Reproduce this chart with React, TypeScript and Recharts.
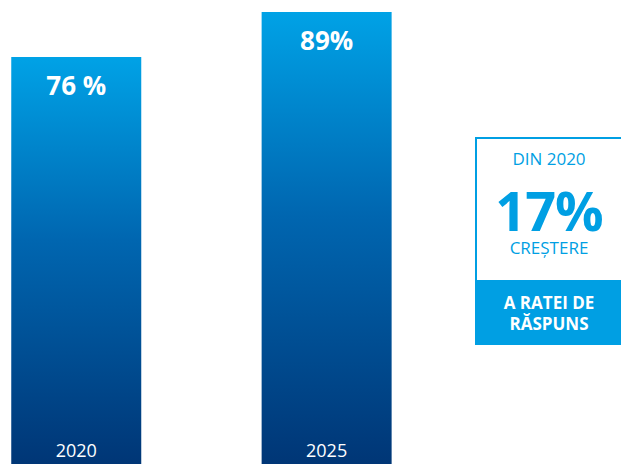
import { BarChart, Bar, XAxis, YAxis, LabelList } from "recharts";

const years = ["2020", "2025"];
const rates = [76, 89];
const rateLabels = ["76 %", "89%"];

const sinceLabel = "DIN 2020";
const growthValue = "17%";
const growthWord = "CREȘTERE";
const growthCaption = ["A RATEI DE", "RĂSPUNS"];

// the bars are cut off at the bottom of the picture, so the axis starts below zero
const Y_MIN = -41.6;
const Y_MAX = 92.5;

const data = years.map((year, i) => ({
  year,
  rate: rates[i],
  label: rateLabels[i],
}));

const BLUE = "#009fe3";
const FONT = "'Open Sans', sans-serif";

export default function App() {
  return (
    <div
      style={{
        position: "fixed",
        left: 0,
        top: 0,
        width: 621,
        height: 464,
        background: "#fff",
        fontFamily: FONT,
        overflow: "hidden",
      }}
    >
      <BarChart
        width={621}
        height={464}
        data={data}
        margin={{ top: 0, right: 169, bottom: 0, left: -48.75 }}
      >
        <defs>
          <linearGradient id="barFill" x1="0" y1="0" x2="0" y2="1">
            <stop offset="0%" stopColor="#00a2e6" />
            <stop offset="45%" stopColor="#0066b0" />
            <stop offset="100%" stopColor="#003676" />
          </linearGradient>
        </defs>
        <XAxis dataKey="year" type="category" hide />
        <YAxis type="number" domain={[Y_MIN, Y_MAX]} allowDataOverflow hide />
        <Bar
          dataKey={(d: { rate: number }) => [Y_MIN, d.rate]}
          barSize={130}
          fill="url(#barFill)"
          isAnimationActive={false}
        >
          <LabelList
            dataKey="label"
            position="insideTop"
            offset={19}
            fill="#fff"
            fontSize={26}
            fontWeight={700}
            fontFamily={FONT}
          />
          <LabelList
            dataKey="year"
            position="insideBottom"
            offset={7}
            fill="#fff"
            fontSize={18}
            fontFamily={FONT}
          />
        </Bar>
      </BarChart>

      <div
        style={{
          position: "absolute",
          left: 475,
          top: 137,
          width: 148,
          height: 143,
          boxSizing: "border-box",
          border: `2px solid ${BLUE}`,
          borderBottom: "none",
          color: BLUE,
          textAlign: "center",
        }}
      >
        <div style={{ position: "absolute", left: 0, right: 0, top: 10, fontSize: 17, lineHeight: "20px" }}>
          {sinceLabel}
        </div>
        <div
          style={{
            position: "absolute",
            left: 0,
            right: 0,
            top: 50,
            fontSize: 54,
            fontWeight: 700,
            lineHeight: "42px",
            letterSpacing: -1,
          }}
        >
          {growthValue}
        </div>
        <div style={{ position: "absolute", left: 0, right: 0, top: 99, fontSize: 17, lineHeight: "20px" }}>
          {growthWord}
        </div>
      </div>
      <div
        style={{
          position: "absolute",
          left: 475,
          top: 280,
          width: 148,
          height: 65,
          background: BLUE,
          color: "#fff",
          fontWeight: 700,
          fontSize: 17,
          lineHeight: "21px",
          textAlign: "center",
          paddingTop: 12,
          boxSizing: "border-box",
        }}
      >
        {growthCaption.map((line) => (
          <div key={line}>{line}</div>
        ))}
      </div>
    </div>
  );
}
